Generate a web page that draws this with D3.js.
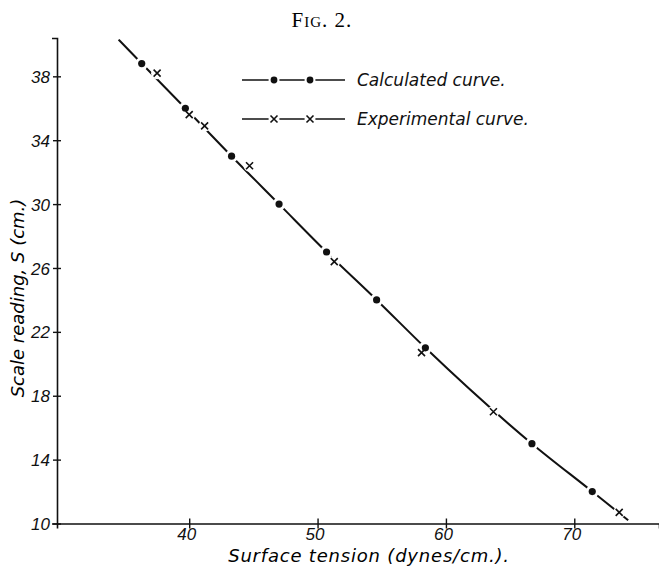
<!DOCTYPE html>
<html>
<head>
<meta charset="utf-8">
<script src="https://cdn.jsdelivr.net/npm/d3@7"></script>
<style>
  body { margin: 0; background: #fff; }
  svg { display: block; }
</style>
</head>
<body>
<div class="area"></div>
<script>
// values
var calcT = [36.3, 39.7, 43.3, 47.0, 50.7, 54.6, 58.4, 66.7, 71.4];
var calcS = [38.8, 36.0, 33.0, 30.0, 27.0, 24.0, 21.0, 15.0, 12.0];
var expT = [37.5, 40.0, 41.2, 44.7, 51.3, 58.1, 63.7, 73.5];
var expS = [38.2, 35.6, 34.9, 32.4, 26.4, 20.7, 17.0, 10.7];
// the drawn curve runs a little past the end points
var endT = [34.5, 74.2];
var endS = [40.3, 10.2];
var xTicks = [40, 50, 60, 70];
var yTicks = [10, 14, 18, 22, 26, 30, 34, 38];
var legendNames = ['Calculated curve.', 'Experimental curve.'];

var W = 659, H = 566;

var svg = d3.select('.area')
    .append('svg')
    .attr('width', W)
    .attr('height', H);

var x = d3.scaleLinear().domain([29.7, 76.6]).range([57, 659]);
var y = d3.scaleLinear().domain([10, 40.4]).range([523.5, 38]);

svg.append('text')
    .attr('x', 322)
    .attr('y', 27)
    .attr('text-anchor', 'middle')
    .attr('font-family', 'Liberation Serif, serif')
    .style('font-variant', 'small-caps')
    .style('letter-spacing', '1px')
    .style('font-size', '21px')
    .text('Fig. 2.');

// axes
var xAxis = svg.append('g')
    .attr('transform', 'translate(0,' + y(10) + ')')
    .call(d3.axisBottom(x).tickValues(xTicks).tickSizeOuter(0).tickSize(5));
var yAxis = svg.append('g')
    .attr('transform', 'translate(' + x(29.7) + ',0)')
    .call(d3.axisLeft(y).tickValues(yTicks).tickSizeOuter(0).tickSize(5));

[xAxis, yAxis].forEach(function (a) {
    a.select('.domain').attr('stroke', '#111').attr('stroke-width', 1.6);
    a.selectAll('.tick line').attr('stroke', '#111').attr('stroke-width', 1.4);
    a.selectAll('.tick text')
        .attr('fill', '#111')
        .attr('font-family', 'Liberation Sans, sans-serif')
        .attr('font-style', 'italic')
        .style('font-size', '17px');
});
// ticks cross the axis line
xAxis.selectAll('.tick line').attr('y1', -5).attr('y2', 5);
xAxis.selectAll('.tick text').attr('y', 4).attr('dx', '-3');
yAxis.selectAll('.tick line').attr('x1', -4).attr('x2', 4);
yAxis.selectAll('.tick text').attr('x', -7).attr('dy', '0.36em');

svg.append('text')
    .attr('x', 369)
    .attr('y', 562)
    .attr('text-anchor', 'middle')
    .attr('font-family', 'DejaVu Sans, sans-serif')
    .attr('font-style', 'italic')
    .style('font-size', '18px')
    .style('letter-spacing', '0.8px')
    .text('Surface tension (dynes/cm.).');

svg.append('text')
    .attr('transform', 'translate(24,298) rotate(-90)')
    .attr('text-anchor', 'middle')
    .attr('font-family', 'DejaVu Sans, sans-serif')
    .attr('font-style', 'italic')
    .style('font-size', '18px')
    .text('Scale reading, S (cm.)');

// curve through the calculated points
var curvePts = [[endT[0], endS[0]]];
calcT.forEach(function (t, i) { curvePts.push([t, calcS[i]]); });
curvePts.push([endT[1], endS[1]]);

var line = d3.line()
    .x(function (d) { return x(d[0]); })
    .y(function (d) { return y(d[1]); })
    .curve(d3.curveMonotoneX);

svg.append('path')
    .datum(curvePts)
    .attr('d', line)
    .attr('fill', 'none')
    .attr('stroke', '#111')
    .attr('stroke-width', 2);

function cross(g, cx, cy, r) {
    g.append('path')
        .attr('d', 'M' + (cx - r) + ',' + (cy - r) + 'L' + (cx + r) + ',' + (cy + r) +
                   'M' + (cx - r) + ',' + (cy + r) + 'L' + (cx + r) + ',' + (cy - r))
        .attr('stroke', '#111')
        .attr('stroke-width', 1.6);
}

// white gaps round the markers
var marks = svg.append('g');
calcT.forEach(function (t, i) {
    marks.append('circle').attr('cx', x(t)).attr('cy', y(calcS[i])).attr('r', 6.5).attr('fill', '#fff');
});
expT.forEach(function (t, i) {
    marks.append('circle').attr('cx', x(t)).attr('cy', y(expS[i])).attr('r', 6).attr('fill', '#fff');
});
calcT.forEach(function (t, i) {
    marks.append('circle').attr('cx', x(t)).attr('cy', y(calcS[i])).attr('r', 3.6).attr('fill', '#111');
});
expT.forEach(function (t, i) {
    cross(marks, x(t), y(expS[i]), 3.5);
});

// legend
var leg = svg.append('g');
[80, 119].forEach(function (ly, k) {
    leg.append('line')
        .attr('x1', 242).attr('x2', 345)
        .attr('y1', ly).attr('y2', ly)
        .attr('stroke', '#111')
        .attr('stroke-width', 1.6);
    [274, 310].forEach(function (mx) {
        leg.append('circle').attr('cx', mx).attr('cy', ly).attr('r', 5.5).attr('fill', '#fff');
        if (k == 0) {
            leg.append('circle').attr('cx', mx).attr('cy', ly).attr('r', 3.4).attr('fill', '#111');
        } else {
            cross(leg, mx, ly, 3.5);
        }
    });
    leg.append('text')
        .attr('x', 357)
        .attr('y', ly + 6)
        .attr('font-family', 'DejaVu Sans, sans-serif')
        .attr('font-style', 'italic')
        .style('font-size', '17px')
        .attr('fill', '#111')
        .text(legendNames[k]);
});
</script>
</body>
</html>
